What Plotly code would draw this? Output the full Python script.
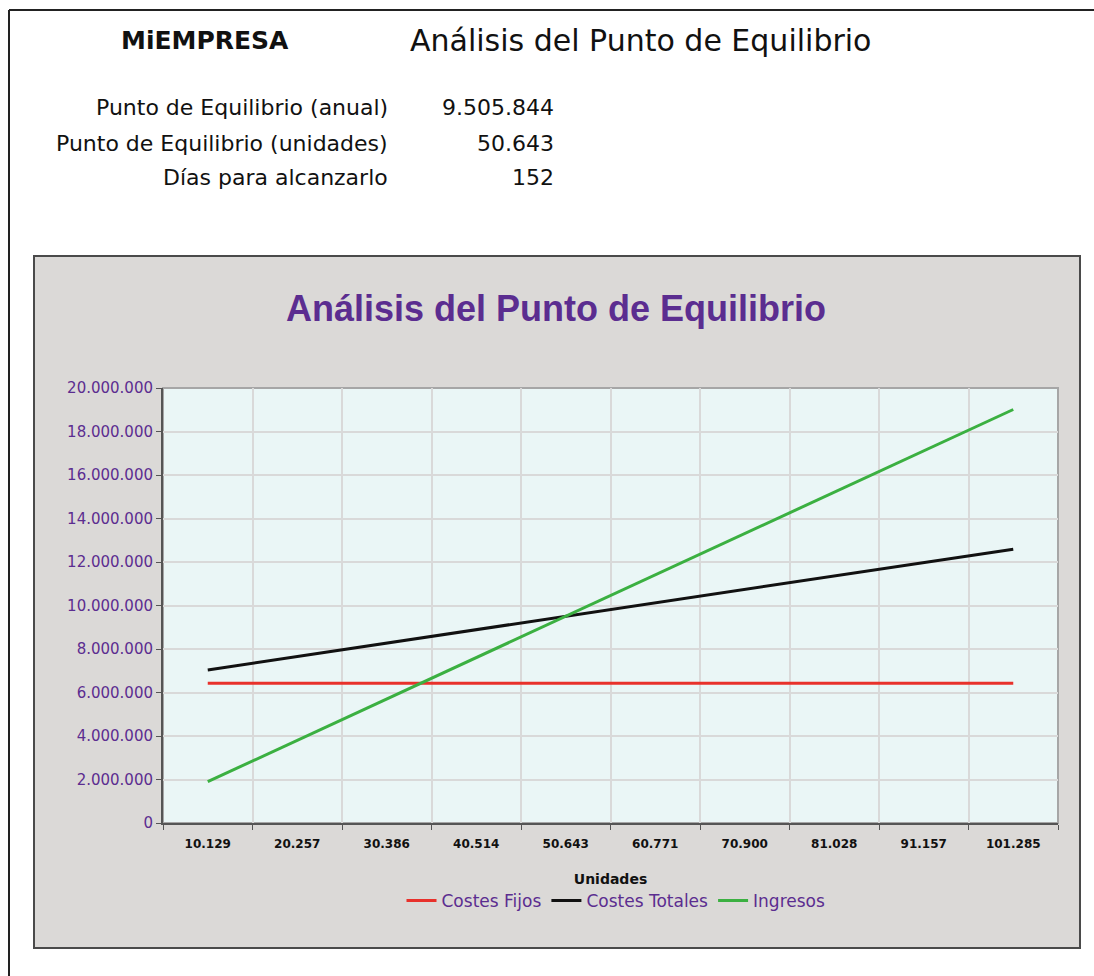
import plotly.graph_objects as go

W, H = 1094, 976

# ---- data ----
unidades = ["10.129", "20.257", "30.386", "40.514", "50.643",
            "60.771", "70.900", "81.028", "91.157", "101.285"]
costes_fijos = [6420000] * 10
costes_totales = [7037000, 7654000, 8271000, 8888000, 9506000,
                  10123000, 10740000, 11357000, 11974000, 12591000]
ingresos = [1901000, 3802000, 5704000, 7605000, 9506000,
            11407000, 13308000, 15209000, 17110000, 19011000]

resumen_labels = ["Punto de Equilibrio (anual)", "Punto de Equilibrio (unidades)", "Días para alcanzarlo"]
resumen_values = ["9.505.844", "50.643", "152"]

PURPLE = "#5b2d90"
ARIAL = "Liberation Sans, Arial, sans-serif"
WIDE = "DejaVu Sans, sans-serif"


def px(x):
    return x / W


def py(y):
    return 1 - y / H


fig = go.Figure()
series = [
    ("Costes Fijos", costes_fijos, "#e8312b"),
    ("Costes Totales", costes_totales, "#111111"),
    ("Ingresos", ingresos, "#3bb041"),
]
for name, vals, col in series:
    fig.add_trace(go.Scatter(x=unidades, y=vals, name=name, mode="lines",
                             line=dict(color=col, width=3)))

# chart box geometry (pixels)
bx0, bx1, by0, by1 = 34, 1080, 256, 948
ix0, ix1, iy0, iy1 = 163, 1058, 388, 823
box_path = (f"M {px(bx0)},{py(by0)} L {px(bx1)},{py(by0)} L {px(bx1)},{py(by1)} L {px(bx0)},{py(by1)} Z "
            f"M {px(ix0)},{py(iy0)} L {px(ix0)},{py(iy1)} L {px(ix1)},{py(iy1)} L {px(ix1)},{py(iy0)} Z")

shapes = [
    # outer frame
    dict(type="line", xref="paper", yref="paper", x0=px(9), x1=px(W + 5), y0=py(10), y1=py(10),
         line=dict(color="#222", width=2)),
    dict(type="line", xref="paper", yref="paper", x0=px(9), x1=px(9), y0=py(10), y1=py(H + 5),
         line=dict(color="#222", width=2)),
    # chart box fill (with hole for plot area)
    dict(type="path", xref="paper", yref="paper", path=box_path,
         fillcolor="#dbd9d7", line=dict(width=0), layer="below"),
    dict(type="rect", xref="paper", yref="paper", x0=px(bx0), x1=px(bx1), y0=py(by0), y1=py(by1),
         line=dict(color="#4a4a4a", width=2), layer="below"),
    # plot area border
    dict(type="rect", xref="x domain", yref="y domain", x0=0, x1=1, y0=0, y1=1,
         line=dict(color="#a6a6a6", width=2), layer="below"),
]

annotations = [
    dict(text="<b>MiEMPRESA</b>", x=px(205), y=py(40), xanchor="center", yanchor="middle",
         font=dict(size=25, color="#111", family=WIDE)),
    dict(text="Análisis del Punto de Equilibrio", x=px(640), y=py(40), xanchor="center", yanchor="middle",
         font=dict(size=30, color="#111", family=WIDE)),
    dict(text="<b>Análisis del Punto de Equilibrio</b>", x=px(556), y=py(308), xanchor="center",
         yanchor="middle", font=dict(size=36, color=PURPLE, family=ARIAL)),
]
row_y = [108, 144, 178]
for lab, val, yy in zip(resumen_labels, resumen_values, row_y):
    annotations.append(dict(text=lab, x=px(390), y=py(yy), xanchor="right", yanchor="middle",
                            font=dict(size=22, color="#111", family=WIDE)))
    annotations.append(dict(text=val, x=px(556), y=py(yy), xanchor="right", yanchor="middle",
                            font=dict(size=22, color="#111", family=WIDE)))

for a in annotations:
    a.update(xref="paper", yref="paper", showarrow=False)

fig.update_layout(
    width=W, height=H, autosize=False,
    margin=dict(l=0, r=0, t=0, b=0),
    paper_bgcolor="white",
    plot_bgcolor="#eaf6f6",
    separators=",.",
    font=dict(family=ARIAL),
    shapes=shapes,
    annotations=annotations,
    showlegend=True,
    legend=dict(orientation="h", x=px(616), xanchor="center", y=py(901), yanchor="middle",
                bgcolor="rgba(0,0,0,0)", font=dict(size=17, color=PURPLE, family=WIDE),
                itemwidth=30, tracegroupgap=0),
    xaxis=dict(
        type="category", domain=[px(ix0), px(ix1)], range=[-0.5, len(unidades) - 0.5],
        tickson="boundaries",
        showgrid=True, gridcolor="#d9d9d9", gridwidth=1.5,
        showline=True, linecolor="#555", linewidth=2,
        ticks="outside", ticklen=5, tickcolor="#555",
        ticklabelstandoff=9,
        tickfont=dict(size=12, color="#111", family=WIDE, weight="bold"),
        title=dict(text="<b>Unidades</b>", font=dict(size=14, color="#111", family=WIDE), standoff=24),
        automargin=False, zeroline=False,
    ),
    yaxis=dict(
        domain=[py(iy1), py(iy0)], range=[0, 20000000], dtick=2000000, tick0=0,
        tickformat=",d",
        showgrid=True, gridcolor="#d9d9d9", gridwidth=1.5,
        showline=True, linecolor="#555", linewidth=2,
        ticks="outside", ticklen=5, tickcolor="#555",
        tickfont=dict(size=15, color=PURPLE, family=WIDE),
        automargin=False, zeroline=False,
    ),
)

fig.write_html("out.html", config={"displayModeBar": False},
               post_script="document.body.style.margin='0';document.body.style.overflow='hidden';")
